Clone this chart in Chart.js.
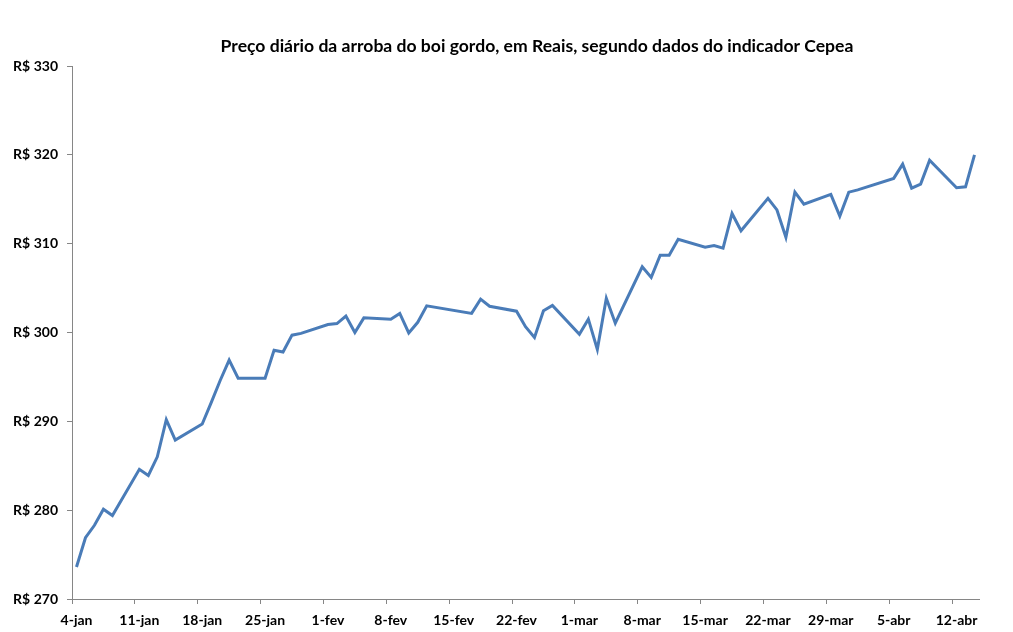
<!DOCTYPE html>
<html>
<head>
<meta charset="utf-8">
<script src="https://cdn.jsdelivr.net/npm/chart.js@4/dist/chart.umd.min.js"></script>
<style>
  html, body { margin: 0; padding: 0; background: #ffffff; }
  #wrap { width: 1013px; height: 632px; }
</style>
</head>
<body>
<div id="wrap"><canvas id="c" width="1013" height="632"></canvas></div>
<script>
const chartTitle = 'Preço diário da arroba do boi gordo, em Reais, segundo dados do indicador Cepea';
const monthNames = ['jan', 'fev', 'mar', 'abr'];
const firstDay = [2021, 0, 4];   // 4-jan-2021
const lastDay = [2021, 3, 14];   // 14-abr-2021
const yTicks = [270, 280, 290, 300, 310, 320, 330];

// Trading days (weekends and holidays have no quote)
const tradingDays = [
  '4-jan','5-jan','6-jan','7-jan','8-jan',
  '11-jan','12-jan','13-jan','14-jan','15-jan',
  '18-jan','19-jan','20-jan','21-jan','22-jan',
  '25-jan','26-jan','27-jan','28-jan','29-jan',
  '1-fev','2-fev','3-fev','4-fev','5-fev',
  '8-fev','9-fev','10-fev','11-fev','12-fev',
  '17-fev','18-fev','19-fev',
  '22-fev','23-fev','24-fev','25-fev','26-fev',
  '1-mar','2-mar','3-mar','4-mar','5-mar',
  '8-mar','9-mar','10-mar','11-mar','12-mar',
  '15-mar','16-mar','17-mar','18-mar','19-mar',
  '22-mar','23-mar','24-mar','25-mar','26-mar',
  '29-mar','30-mar','31-mar','1-abr',
  '5-abr','6-abr','7-abr','8-abr','9-abr',
  '12-abr','13-abr','14-abr'
];
const prices = [
  273.6, 276.9, 278.3, 280.1, 279.4,
  284.6, 283.9, 286.0, 290.2, 287.9,
  289.7, 292.1, 294.6, 296.9, 294.85,
  294.85, 298.0, 297.8, 299.7, 299.9,
  300.9, 301.0, 301.85, 300.0, 301.65,
  301.5, 302.15, 299.95, 301.15, 303.0,
  302.15, 303.75, 302.95,
  302.4, 300.65, 299.45, 302.45, 303.05,
  299.8, 301.5, 298.1, 303.85, 301.05,
  307.4, 306.2, 308.7, 308.7, 310.5,
  309.6, 309.8, 309.5, 313.4, 311.45,
  315.1, 313.8, 310.7, 315.8, 314.45,
  315.55, 313.1, 315.8, 316.05,
  317.35, 318.95, 316.25, 316.7, 319.4,
  316.3, 316.4, 320.0
];

// Build the full calendar axis (one category per day)
const calendarLabels = [];
{
  const d = new Date(firstDay[0], firstDay[1], firstDay[2]);
  const end = new Date(lastDay[0], lastDay[1], lastDay[2]);
  while (d <= end) {
    calendarLabels.push(d.getDate() + '-' + monthNames[d.getMonth()]);
    d.setDate(d.getDate() + 1);
  }
}
const priceByDay = {};
tradingDays.forEach((lab, i) => { priceByDay[lab] = prices[i]; });
const seriesData = calendarLabels.map(lab => (lab in priceByDay ? priceByDay[lab] : null));

const AXIS = '#868686';
const FONT = 'Lato, "Open Sans", "Liberation Sans", sans-serif';

const titlePlugin = {
  id: 'fixedTitle',
  afterDraw(chart) {
    const ctx = chart.ctx;
    ctx.save();
    let size = 16;
    ctx.font = 'bold ' + size + 'px ' + FONT;
    const w = ctx.measureText(chartTitle).width;
    size = Math.max(12, Math.min(18, size * 633 / w));
    ctx.font = 'bold ' + size.toFixed(2) + 'px ' + FONT;
    ctx.fillStyle = '#000000';
    ctx.textAlign = 'center';
    ctx.textBaseline = 'middle';
    ctx.fillText(chartTitle, 537, 46);
    ctx.restore();
  }
};

new Chart(document.getElementById('c'), {
  type: 'line',
  data: {
    labels: calendarLabels,
    datasets: [{
      label: 'Preço',
      data: seriesData,
      borderColor: '#4a7cb8',
      backgroundColor: '#4a7cb8',
      borderWidth: 3,
      pointRadius: 0,
      pointHoverRadius: 0,
      tension: 0,
      spanGaps: true,
      borderJoinStyle: 'miter',
      borderCapStyle: 'butt'
    }]
  },
  options: {
    responsive: false,
    devicePixelRatio: 1,
    animation: false,
    layout: { padding: { top: 66, right: 34, left: 0, bottom: 0 } },
    plugins: {
      legend: { display: false },
      title: { display: false },
      tooltip: { enabled: false }
    },
    scales: {
      x: {
        type: 'category',
        offset: true,
        grid: {
          offset: true,
          drawOnChartArea: false,
          drawTicks: true,
          tickLength: 5,
          lineWidth: 1,
          color: (ctx) => (ctx.index % 7 === 0 ? AXIS : 'rgba(0,0,0,0)')
        },
        border: { display: true, color: AXIS, width: 1 },
        ticks: {
          autoSkip: false,
          maxRotation: 0,
          minRotation: 0,
          padding: 8,
          color: '#000000',
          font: { family: FONT, size: 14, weight: 'bold' },
          callback: function (val, idx) {
            return idx % 7 === 0 ? calendarLabels[idx] : '';
          }
        },
        afterFit: (scale) => { scale.height = 33; }
      },
      y: {
        min: yTicks[0],
        max: yTicks[yTicks.length - 1],
        grid: {
          drawOnChartArea: false,
          drawTicks: true,
          tickLength: 5,
          color: AXIS
        },
        border: { display: true, color: AXIS, width: 1 },
        afterBuildTicks: (scale) => { scale.ticks = yTicks.map(v => ({ value: v })); },
        ticks: {
          padding: 9,
          color: '#000000',
          font: { family: FONT, size: 14, weight: 'bold' },
          callback: (v) => 'R$ ' + v
        },
        afterFit: (scale) => { scale.width = 72; }
      }
    }
  },
  plugins: [titlePlugin]
});
</script>
</body>
</html>
